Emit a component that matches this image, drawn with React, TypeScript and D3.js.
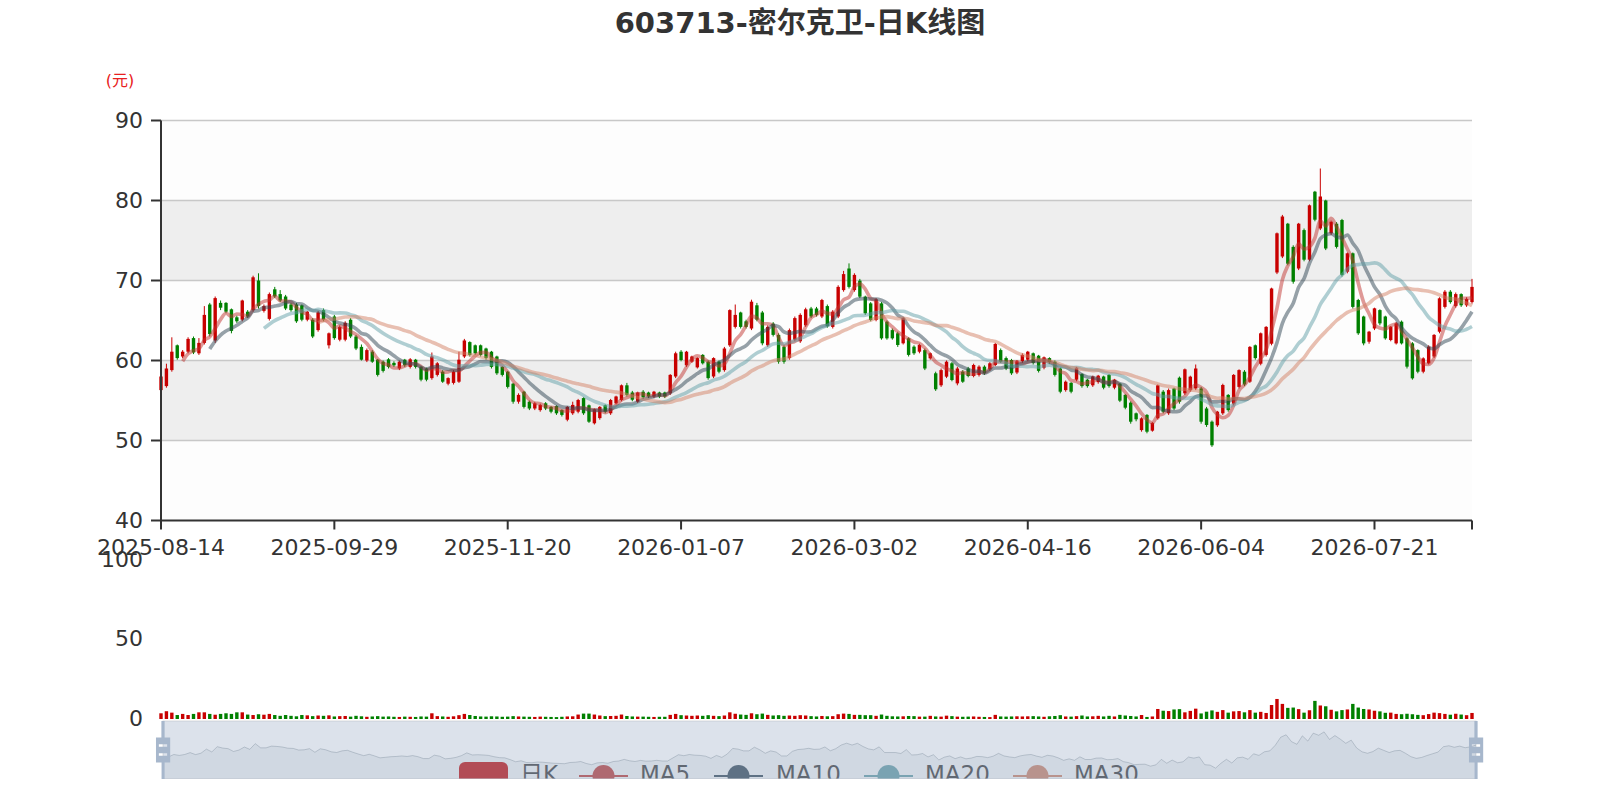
import React from "react";
import * as d3 from "d3";

// ---- data ----
const tradingDays: [string, number[]][] = [
  ["2025-08", [14, 15, 18, 19, 20, 21, 22, 25, 26, 27, 28, 29]],
  ["2025-09", [1, 2, 3, 4, 5, 8, 9, 10, 11, 12, 15, 16, 17, 18, 19, 22, 23, 24, 25, 26, 29, 30]],
  ["2025-10", [9, 10, 13, 14, 15, 16, 17, 20, 21, 22, 23, 24, 27, 28, 29, 30, 31]],
  ["2025-11", [3, 4, 5, 6, 7, 10, 11, 12, 13, 14, 17, 18, 19, 20, 21, 24, 25, 26, 27, 28]],
  ["2025-12", [1, 2, 3, 4, 5, 8, 9, 10, 11, 12, 15, 16, 17, 18, 19, 22, 23, 24, 25, 26, 29, 30, 31]],
  ["2026-01", [5, 6, 7, 8, 9, 12, 13, 14, 15, 16, 19, 20, 21, 22, 23, 26, 27, 28, 29, 30]],
  ["2026-02", [2, 3, 4, 5, 6, 9, 10, 11, 12, 13, 24, 25, 26, 27]],
  ["2026-03", [2, 3, 4, 5, 6, 9, 10, 11, 12, 13, 16, 17, 18, 19, 20, 23, 24, 25, 26, 27, 30, 31]],
  ["2026-04", [1, 2, 3, 7, 8, 9, 10, 13, 14, 15, 16, 17, 20, 21, 22, 23, 24, 27, 28, 29, 30]],
  ["2026-05", [6, 7, 8, 11, 12, 13, 14, 15, 18, 19, 20, 21, 22, 25, 26, 27, 28, 29]],
  ["2026-06", [1, 2, 3, 4, 5, 8, 9, 10, 11, 12, 15, 16, 17, 18, 22, 23, 24, 25, 26, 29, 30]],
  ["2026-07", [1, 2, 3, 6, 7, 8, 9, 10, 13, 14, 15, 16, 17, 20, 21, 22, 23, 24, 27, 28, 29, 30, 31]],
  ["2026-08", [3, 4, 5, 6, 7, 10, 11, 12, 13, 14]],
];
const dates: string[] = tradingDays.flatMap(([m, days]) =>
  days.map((d) => `${m}-${d < 10 ? "0" + d : d}`)
);

const opens = [
  56.3, 56.8, 58.8, 61.9, 60.5, 61.1, 62.8, 60.9, 62.2, 67.0, 62.5, 67.2, 67.2, 66.4, 65.4, 65.1, 66.1, 66.3, 70.0, 66.2,
  65.2, 68.9, 68.3, 68.0, 67.0, 67.0, 66.9, 65.1, 65.1, 63.8, 66.3, 61.9, 65.5, 62.6, 62.6, 65.1, 63.0, 61.7, 60.0, 61.1,
  60.1, 59.85, 60.15, 59.7, 59.0, 60.1, 59.2, 60.1, 59.2, 59.0, 57.8, 58.2, 58.6, 57.1, 57.2, 57.35, 60.5, 62.3, 61.9, 61.9,
  61.5, 61.1, 60.5, 59.2, 58.6, 57.1, 54.85, 56.1, 54.85, 54.0, 53.8, 54.65, 54.2, 54.3, 53.8, 52.6, 53.4, 53.6, 55.3, 54.4,
  52.15, 52.8, 54.4, 53.4, 54.65, 55.06, 56.9, 56.0, 54.85, 56.1, 56.0, 55.5, 56.0, 56.0, 55.9, 58.0, 61.1, 59.4, 59.85, 59.14,
  60.7, 59.85, 58.0, 59.85, 58.8, 61.9, 64.2, 66.0, 64.9, 64.0, 66.9, 66.0, 61.9, 64.6, 63.2, 61.7, 60.3, 62.6, 62.4, 64.4,
  66.5, 66.5, 65.5, 66.8, 64.2, 65.5, 68.8, 71.5, 68.8, 69.98, 67.98, 67.14, 65.06, 67.14, 64.85, 63.8, 63.4, 62.15, 62.77, 61.73,
  61.1, 61.3, 60.27, 58.4, 56.9, 57.98, 59.65, 57.14, 58.6, 59.0, 58.06, 58.2, 59.23, 58.9, 59.44, 61.3, 60.3, 60.06, 58.5, 59.9,
  60.1, 60.9, 60.6, 59.1, 60.3, 59.85, 59.0, 56.3, 57.2, 57.6, 58.3, 57.6, 56.9, 57.3, 58.0, 58.2, 56.6, 57.1, 55.7, 54.73,
  53.4, 51.3, 53.2, 51.23, 52.77, 56.1, 53.4, 56.5, 57.85, 55.9, 56.3, 56.5, 56.5, 54.0, 52.35, 51.9, 53.4, 55.7, 54.6, 56.7,
  58.6, 57.35, 61.9, 59.6, 60.7, 62.1, 71.0, 73.0, 77.1, 74.2, 71.5, 76.3, 72.6, 81.1, 76.5, 80.0, 75.9, 77.1, 77.56, 71.1,
  73.4, 67.56, 65.5, 62.35, 64.0, 66.3, 65.5, 62.56, 62.14, 64.85, 62.77, 62.14, 61.3, 58.6, 59.64, 60.5, 63.6, 66.7, 68.6, 66.8,
  68.3, 66.9, 67.3,
];
const closes = [
  58.0, 59.0, 61.1, 60.3, 61.1, 62.7, 61.0, 62.2, 65.7, 63.3, 67.8, 66.6, 66.1, 63.7, 64.9, 67.5, 65.5, 70.4, 66.8, 66.8,
  68.3, 68.0, 67.5, 66.5, 66.3, 64.9, 65.1, 66.1, 63.0, 66.0, 65.1, 63.4, 62.8, 64.2, 64.7, 63.0, 61.5, 60.1, 61.3, 59.85,
  58.2, 58.7, 59.2, 59.4, 59.85, 59.4, 60.15, 59.2, 57.6, 57.6, 60.5, 59.65, 57.35, 57.8, 58.6, 60.1, 62.5, 60.7, 60.9, 60.7,
  60.3, 59.2, 58.4, 58.2, 56.7, 54.85, 55.7, 54.2, 54.0, 54.65, 54.45, 54.0, 53.6, 53.4, 53.2, 54.2, 54.45, 55.06, 53.4, 52.35,
  53.9, 54.2, 53.6, 55.06, 55.5, 56.9, 55.7, 55.1, 56.0, 55.4, 55.5, 56.1, 55.5, 55.5, 58.2, 60.9, 60.06, 61.1, 60.5, 60.3,
  59.65, 57.8, 60.3, 58.6, 61.5, 66.3, 65.7, 64.2, 64.2, 67.35, 65.1, 62.15, 64.2, 63.2, 59.85, 59.85, 63.8, 65.3, 65.7, 66.4,
  65.5, 65.7, 67.56, 64.3, 66.1, 69.2, 70.8, 69.2, 70.7, 67.98, 65.9, 65.06, 67.65, 62.77, 62.77, 62.77, 61.94, 65.27, 60.7, 60.9,
  61.94, 59.0, 60.9, 56.4, 58.8, 59.85, 57.56, 59.0, 57.35, 58.06, 59.44, 59.23, 58.4, 59.65, 62.06, 59.85, 59.0, 58.4, 59.9, 60.7,
  61.1, 59.7, 58.7, 60.4, 59.8, 58.2, 56.1, 57.35, 56.1, 59.1, 56.8, 56.8, 58.0, 58.1, 56.6, 56.8, 57.6, 54.98, 54.1, 52.35,
  52.65, 52.77, 51.1, 52.2, 56.9, 53.6, 56.3, 54.0, 54.85, 58.9, 57.98, 59.0, 52.35, 51.94, 49.4, 53.6, 56.94, 53.8, 58.2, 58.8,
  57.0, 61.7, 60.3, 63.4, 64.2, 69.0, 75.9, 78.0, 72.1, 69.85, 77.1, 72.6, 79.4, 77.6, 80.5, 74.0, 77.35, 74.2, 70.7, 73.4,
  66.7, 63.4, 62.14, 63.6, 66.52, 64.64, 62.77, 64.23, 64.64, 62.14, 59.23, 57.77, 58.6, 60.27, 61.73, 63.2, 67.77, 68.6, 67.3, 68.3,
  66.9, 67.7, 69.2,
];
const lows = [
  56.0, 56.6, 58.6, 60.1, 60.3, 60.9, 60.8, 60.7, 62.0, 63.0, 62.2, 66.3, 65.9, 63.4, 64.7, 64.9, 65.3, 66.1, 66.5, 66.0,
  65.0, 67.8, 67.3, 66.3, 66.1, 64.7, 64.9, 64.9, 62.8, 63.6, 64.9, 61.5, 62.6, 62.4, 62.4, 62.8, 61.3, 60.0, 59.8, 59.7,
  58.0, 58.5, 59.0, 59.2, 58.8, 59.2, 59.0, 59.0, 57.4, 57.4, 57.6, 58.0, 57.2, 56.9, 57.0, 57.2, 60.3, 60.5, 60.7, 60.5,
  60.1, 59.0, 58.2, 58.0, 56.5, 54.6, 54.6, 54.0, 53.8, 53.8, 53.6, 53.8, 53.4, 53.2, 53.0, 52.4, 53.2, 53.4, 53.2, 52.2,
  52.0, 52.6, 53.4, 53.2, 54.5, 54.9, 55.5, 54.9, 54.7, 55.2, 55.3, 55.3, 55.3, 55.3, 55.7, 57.8, 59.9, 59.2, 59.7, 59.0,
  59.5, 57.6, 57.8, 58.4, 58.6, 61.7, 64.0, 64.0, 64.0, 63.8, 64.9, 61.9, 61.7, 63.0, 59.6, 59.6, 60.1, 62.4, 62.2, 64.2,
  65.3, 65.5, 65.3, 64.1, 64.0, 65.3, 68.6, 69.0, 68.6, 67.8, 65.7, 64.9, 64.9, 62.6, 62.6, 62.6, 61.7, 62.0, 60.5, 60.7,
  60.9, 58.8, 60.1, 56.2, 56.7, 57.8, 57.4, 56.9, 57.2, 57.9, 57.9, 58.0, 58.2, 58.7, 59.3, 59.7, 58.8, 58.2, 58.3, 59.7,
  59.9, 59.5, 58.5, 58.9, 59.6, 58.0, 55.9, 56.1, 55.9, 57.4, 56.6, 56.6, 56.7, 57.1, 56.4, 56.6, 56.4, 54.8, 53.9, 52.1,
  52.4, 51.1, 50.9, 51.1, 52.6, 53.4, 53.2, 53.8, 54.6, 55.7, 56.1, 56.3, 52.1, 51.7, 49.2, 51.7, 53.2, 53.6, 54.4, 56.5,
  56.8, 57.2, 60.1, 59.4, 60.5, 61.9, 70.8, 72.8, 71.9, 69.6, 71.3, 72.4, 72.4, 77.4, 76.3, 73.8, 75.7, 74.0, 70.5, 70.9,
  66.5, 63.2, 61.9, 62.1, 63.8, 64.4, 62.6, 62.4, 62.0, 62.0, 59.0, 57.6, 58.4, 58.4, 59.5, 60.3, 63.4, 66.5, 67.1, 66.6,
  66.7, 66.7, 67.1,
];
const highs = [
  59.5, 59.6, 62.9, 62.0, 61.3, 62.9, 63.0, 62.8, 66.8, 67.2, 68.0, 67.5, 67.3, 66.5, 65.6, 67.6, 66.3, 70.6, 70.9, 67.0,
  68.5, 69.2, 68.8, 68.2, 67.2, 67.2, 67.0, 66.2, 65.3, 66.2, 66.5, 63.5, 65.7, 64.4, 64.9, 65.3, 63.2, 62.0, 61.5, 61.3,
  60.2, 60.0, 60.3, 59.9, 60.0, 60.2, 60.3, 60.2, 59.3, 59.1, 61.0, 59.8, 58.8, 57.9, 58.8, 61.1, 62.7, 62.4, 62.0, 62.0,
  61.6, 61.2, 60.6, 59.3, 58.7, 57.2, 55.9, 56.2, 55.0, 54.8, 54.6, 54.8, 54.3, 54.4, 53.9, 54.3, 54.85, 55.2, 55.4, 54.5,
  54.0, 54.3, 54.5, 55.2, 55.6, 57.0, 57.2, 56.2, 56.1, 56.3, 56.1, 56.2, 56.1, 56.1, 58.3, 61.1, 61.3, 61.2, 60.6, 60.4,
  60.8, 60.0, 60.4, 60.0, 61.7, 66.4, 67.0, 66.1, 65.1, 67.6, 67.2, 66.2, 64.4, 64.8, 63.4, 61.9, 64.0, 65.5, 65.9, 66.6,
  66.7, 66.7, 67.7, 67.0, 66.3, 69.4, 71.2, 72.14, 70.9, 70.2, 68.1, 67.3, 67.8, 67.3, 65.0, 64.0, 63.6, 65.4, 62.9, 61.9,
  62.1, 61.5, 61.0, 58.6, 59.0, 60.0, 59.8, 59.2, 58.8, 59.2, 59.6, 59.4, 59.4, 59.8, 62.2, 61.5, 60.5, 60.2, 60.06, 60.9,
  61.2, 61.0, 60.7, 60.5, 60.4, 60.0, 59.1, 57.5, 57.3, 59.2, 58.4, 57.7, 58.1, 58.2, 58.1, 58.3, 57.7, 57.2, 55.8, 54.9,
  53.5, 52.9, 53.3, 52.3, 57.0, 56.3, 56.5, 56.6, 58.0, 59.0, 58.1, 59.5, 56.7, 54.2, 52.5, 53.7, 57.1, 55.8, 58.3, 58.9,
  58.8, 61.8, 62.0, 63.5, 64.3, 69.1, 76.0, 78.2, 77.2, 74.4, 77.2, 76.5, 79.5, 81.2, 84.0, 80.1, 77.5, 77.3, 77.7, 73.5,
  73.5, 67.7, 65.6, 63.7, 66.6, 66.4, 65.6, 64.3, 64.8, 65.0, 62.9, 62.3, 61.4, 60.4, 61.9, 63.3, 67.9, 68.8, 68.8, 68.5,
  68.4, 67.9, 70.2,
];
const volumes = [
  3.6, 4.9, 4.0, 2.5, 3.2, 2.5, 3.2, 4.2, 4.2, 3.2, 2.7, 3.2, 3.6, 3.2, 4.2, 4.2, 2.8, 2.5, 3.0, 2.7,
  3.2, 2.5, 2.0, 2.5, 2.0, 1.7, 2.5, 2.3, 1.8, 2.2, 2.0, 2.3, 1.6, 1.8, 1.9, 1.5, 2.0, 1.7, 1.4, 1.6,
  1.8, 1.5, 1.6, 1.4, 1.3, 1.5, 1.4, 1.3, 1.6, 1.5, 3.6, 1.8, 1.6, 1.4, 1.7, 2.4, 3.2, 2.5, 1.9, 1.6,
  1.5, 1.7, 1.6, 1.4, 1.5, 1.8, 1.6, 1.5, 1.4, 1.3, 1.5, 1.4, 1.3, 1.2, 1.4, 1.6, 1.7, 2.8, 3.4, 3.4,
  2.8, 2.2, 1.8, 1.9, 2.0, 2.8, 1.9, 1.6, 1.5, 1.5, 1.4, 1.3, 1.4, 1.4, 2.6, 3.2, 2.4, 2.2, 2.0, 2.2,
  2.0, 2.4, 2.0, 1.8, 2.2, 4.2, 3.3, 2.8, 2.6, 3.6, 3.0, 3.4, 2.6, 2.2, 2.4, 2.0, 2.2, 2.0, 2.4, 2.2,
  1.8, 1.6, 1.9, 1.7, 1.8, 3.0, 3.4, 3.2, 2.6, 2.6, 2.4, 2.4, 2.0, 2.8, 2.0, 1.7, 1.6, 1.7, 1.9, 1.8,
  1.5, 1.5, 2.0, 1.6, 1.5, 2.1, 1.8, 1.5, 1.4, 1.5, 1.6, 1.4, 1.3, 1.2, 2.6, 1.6, 1.5, 1.6, 1.7, 1.6,
  1.7, 1.8, 1.6, 1.4, 1.7, 1.9, 2.4, 1.6, 1.5, 1.8, 2.2, 1.6, 1.7, 2.0, 1.6, 2.0, 1.6, 2.6, 2.2, 1.9,
  1.6, 2.5, 1.3, 1.6, 6.3, 5.2, 5.0, 6.0, 6.2, 4.2, 5.1, 6.5, 3.5, 4.6, 5.4, 4.5, 5.6, 4.0, 4.8, 5.0,
  4.2, 5.6, 4.0, 4.5, 3.8, 8.8, 12.6, 9.5, 7.0, 7.2, 6.2, 4.0, 5.5, 11.4, 8.5, 8.0, 5.8, 4.8, 5.6, 6.0,
  9.5, 7.2, 6.3, 6.0, 5.2, 4.8, 3.9, 4.0, 3.2, 3.0, 3.3, 3.0, 2.6, 2.4, 3.1, 4.0, 3.7, 3.2, 2.7, 3.3,
  2.8, 2.4, 3.8,
];

const priceTicks = [40, 50, 60, 70, 80, 90];
const volumeTicks = [0, 50, 100];
const maPeriods = [5, 10, 20, 30];
const maNames = ["MA5", "MA10", "MA20", "MA30"];
const maColors = ["#c23531", "#2f4554", "#61a0a8", "#d48265"];
const labelInterval = 32;
const titleText = "603713-密尔克卫-日K线图";
const unitText = "(元)";

const UP = "#c80000";
const DOWN = "#008000";
const FONT = "'DejaVu Sans', 'Noto Sans CJK SC', sans-serif";
const HANDLE_ICON =
  "M8.2,13.6V3.9H6.3v9.7H3.1v14.9h3.3v9.7h1.8v-9.7h3.3V13.6H8.2z M9.7,24.4H4.8v-1.4h4.9V24.4z M9.7,19.1H4.8v-1.4h4.9V19.1z";

function movingAverage(n: number): ([number, number] | null)[] {
  return closes.map((_, i) => {
    if (i < n - 1) return null;
    const m = d3.mean(closes.slice(i - n + 1, i + 1)) as number;
    return [i, m];
  });
}

export default function App() {
  const W = 1600;
  const H = 779;
  const plotL = 161, plotR = 1472, plotT = 120.5, plotB = 520.5;
  const x = d3.scalePoint<string>().domain(dates).range([plotL, plotR]);
  const y = d3.scaleLinear().domain([40, 90]).range([plotB, plotT]);
  const vy = d3.scaleLinear().domain([0, 100]).range([719, 560]);
  const bw = 3.4;

  const idx = d3.range(dates.length);
  const up = (i: number) => closes[i] >= opens[i];

  // slider
  const sL = 163, sR = 1476, sT = 721, sB = 779;
  const sx = d3.scalePoint<string>().domain(dates).range([sL, sR]);
  const [cMin, cMax] = d3.extent(closes) as [number, number];
  const pad = (cMax - cMin) * 0.3;
  const sy = d3.scaleLinear().domain([cMin - pad, cMax + pad]).range([sB, sT]);
  const shadowArea = d3
    .area<number>()
    .x((i) => sx(dates[i]) as number)
    .y0(sB)
    .y1((i) => sy(closes[i]));
  const shadowLine = d3
    .line<number>()
    .x((i) => sx(dates[i]) as number)
    .y((i) => sy(closes[i]));

  const maLine = d3
    .line<[number, number] | null>()
    .defined((d) => d !== null)
    .x((d) => x(dates[(d as [number, number])[0]]) as number)
    .y((d) => y((d as [number, number])[1]))
    .curve(d3.curveMonotoneX);

  const labelIdx = idx.filter((i) => i % labelInterval === 0);

  const handleScale = (sB - sT) / 34.3;
  const handle = (cx: number) => (
    <path
      d={HANDLE_ICON}
      fill="#a7b7cc"
      fillRule="evenodd"
      transform={`translate(${cx},${(sT + sB) / 2}) scale(${handleScale}) translate(-7.25,-21.05)`}
    />
  );

  const legendY = 776;
  const legendItems = [
    { name: "日K", kind: "rect", color: UP, ix: 459, tx: 520 },
    { name: maNames[0], kind: "line", color: maColors[0], ix: 579, tx: 640 },
    { name: maNames[1], kind: "line", color: maColors[1], ix: 714, tx: 776 },
    { name: maNames[2], kind: "line", color: maColors[2], ix: 864, tx: 925 },
    { name: maNames[3], kind: "line", color: maColors[3], ix: 1013, tx: 1074 },
  ];

  return (
    <svg
      width={W}
      height={H}
      style={{ position: "absolute", left: 0, top: 0, display: "block", background: "#fff" }}
      fontFamily={FONT}
    >
      {/* title */}
      <text x={800} y={23} textAnchor="middle" dominantBaseline="central" fontSize={29} fontWeight="bold" fill="#333">
        {titleText}
      </text>
      <text x={120} y={80} textAnchor="middle" dominantBaseline="central" fontSize={16} fill="#e82020">
        {unitText}
      </text>

      {/* split areas */}
      {priceTicks.slice(0, -1).map((v, k) => (
        <rect
          key={"band" + v}
          x={plotL}
          y={y(v + 10)}
          width={plotR - plotL}
          height={y(v) - y(v + 10)}
          fill={k % 2 === 0 ? "rgba(250,250,250,0.3)" : "rgba(200,200,200,0.3)"}
        />
      ))}
      {/* split lines */}
      {priceTicks.slice(1).map((v) => (
        <line key={"sl" + v} x1={plotL} x2={plotR} y1={y(v)} y2={y(v)} stroke="#c8c8c8" strokeWidth={1.6} />
      ))}

      {/* candles */}
      {idx.map((i) => {
        const cx = x(dates[i]) as number;
        const col = up(i) ? UP : DOWN;
        const top = y(Math.max(opens[i], closes[i]));
        const bot = y(Math.min(opens[i], closes[i]));
        return (
          <g key={"c" + i}>
            <line x1={cx} x2={cx} y1={y(highs[i])} y2={y(lows[i])} stroke={col} strokeWidth={1} />
            <rect x={cx - bw / 2} y={top} width={bw} height={Math.max(1, bot - top)} fill={col} />
          </g>
        );
      })}

      {/* MA lines */}
      {maPeriods.map((n, k) => (
        <path
          key={"ma" + n}
          d={maLine(movingAverage(n)) || ""}
          fill="none"
          stroke={maColors[k]}
          strokeOpacity={0.5}
          strokeWidth={3.6}
        />
      ))}

      {/* axes */}
      <line x1={plotL} x2={plotL} y1={plotT} y2={plotB} stroke="#333" strokeWidth={2} />
      <line x1={plotL} x2={plotR} y1={plotB} y2={plotB} stroke="#333" strokeWidth={2} />
      {priceTicks.map((v) => (
        <g key={"yt" + v}>
          <line x1={plotL - 10} x2={plotL} y1={y(v)} y2={y(v)} stroke="#333" strokeWidth={2} />
          <text x={143} y={y(v)} textAnchor="end" dominantBaseline="central" fontSize={22} fill="#333">
            {v}
          </text>
        </g>
      ))}
      {labelIdx.map((i) => (
        <g key={"xt" + i}>
          <line x1={x(dates[i])} x2={x(dates[i])} y1={plotB} y2={plotB + 9} stroke="#333" strokeWidth={2} />
          <text x={x(dates[i])} y={547} textAnchor="middle" dominantBaseline="central" fontSize={22} fill="#333">
            {dates[i]}
          </text>
        </g>
      ))}
      <line x1={plotR} x2={plotR} y1={plotB} y2={plotB + 9} stroke="#333" strokeWidth={2} />

      {/* volume */}
      {volumeTicks.map((v) => (
        <text key={"vt" + v} x={143} y={vy(v) - 1} textAnchor="end" dominantBaseline="central" fontSize={22} fill="#333">
          {v}
        </text>
      ))}
      {idx.map((i) => {
        const cx = x(dates[i]) as number;
        return (
          <rect
            key={"v" + i}
            x={cx - bw / 2}
            y={vy(volumes[i])}
            width={bw}
            height={vy(0) - vy(volumes[i])}
            fill={up(i) ? UP : DOWN}
          />
        );
      })}

      {/* legend (under the slider) */}
      {legendItems.map((it) => (
        <g key={"lg" + it.name}>
          {it.kind === "rect" ? (
            <rect x={it.ix} y={legendY - 14} width={49} height={28} rx={6} fill={it.color} />
          ) : (
            <g>
              <line x1={it.ix} x2={it.ix + 49} y1={legendY} y2={legendY} stroke={it.color} strokeWidth={2} />
              <circle cx={it.ix + 24.5} cy={legendY} r={11} fill={it.color} />
            </g>
          )}
          <text x={it.tx} y={legendY - 2} dominantBaseline="central" fontSize={23} fill="#333">
            {it.name}
          </text>
        </g>
      ))}

      {/* dataZoom slider */}
      <rect x={sL} y={sT} width={sR - sL} height={sB - sT} fill="none" stroke="#ddd" strokeWidth={1} />
      <path d={shadowArea(idx) || ""} fill="rgba(47,69,84,0.09)" />
      <path d={shadowLine(idx) || ""} fill="none" stroke="rgba(47,69,84,0.3)" strokeWidth={1} />
      <rect x={sL} y={sT} width={sR - sL} height={sB - sT} fill="rgba(167,183,204,0.4)" />
      {handle(sL)}
      {handle(sR)}
    </svg>
  );
}
